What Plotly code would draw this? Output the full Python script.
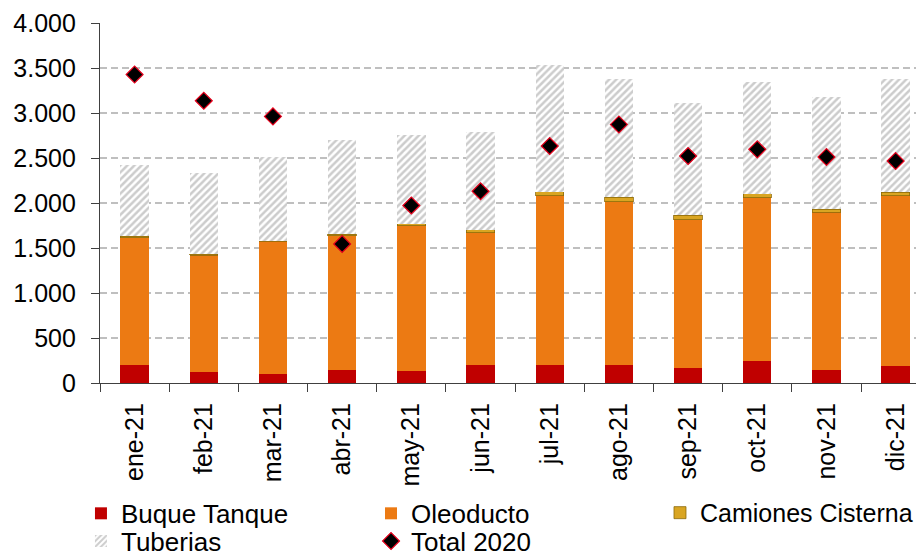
import plotly.graph_objects as go

months = ["ene-21", "feb-21", "mar-21", "abr-21", "may-21", "jun-21",
          "jul-21", "ago-21", "sep-21", "oct-21", "nov-21", "dic-21"]
buque_tanque = [203, 118, 103, 148, 129, 203, 203, 203, 170, 247, 148, 192]
oleoducto = [1410, 1300, 1470, 1488, 1617, 1466, 1876, 1810, 1643, 1810, 1750, 1887]
camiones_cisterna = [17, 15, 8, 18, 22, 33, 48, 51, 52, 48, 30, 41]
tuberias = [789, 905, 926, 1042, 987, 1083, 1411, 1315, 1248, 1241, 1252, 1259]
total_2020 = [3427, 3136, 2962, 1544, 1972, 2131, 2633, 2873, 2522, 2596, 2511, 2467]

y_tick_vals = [0, 500, 1000, 1500, 2000, 2500, 3000, 3500, 4000]
y_tick_text = ["0", "500", "1.000", "1.500", "2.000", "2.500", "3.000", "3.500", "4.000"]

FONT = "Arial, Liberation Sans, sans-serif"
BAR_W = 0.41

fig = go.Figure()
fig.add_trace(go.Bar(x=months, y=buque_tanque, name="Buque Tanque", width=BAR_W,
                     marker=dict(color="#C00000", line=dict(width=0)), legend="legend"))
fig.add_trace(go.Bar(x=months, y=oleoducto, name="Oleoducto", width=BAR_W,
                     marker=dict(color="#EC7A13", line=dict(width=0)), legend="legend2"))
fig.add_trace(go.Bar(x=months, y=camiones_cisterna, name="Camiones Cisterna", width=BAR_W,
                     marker=dict(color="#D9A522", line=dict(width=0.8, color="#8C6A0A")),
                     legend="legend3"))
fig.add_trace(go.Bar(x=months, y=tuberias, name="Tuberias", width=BAR_W,
                     marker=dict(color="white", line=dict(width=0),
                                 pattern=dict(shape="/", fgcolor="#999999", bgcolor="white",
                                              size=5, solidity=0.5)),
                     legend="legend4"))
fig.add_trace(go.Scatter(x=months, y=total_2020, name="Total 2020", mode="markers",
                         marker=dict(symbol="diamond", size=13, color="black",
                                     line=dict(color="#E8001C", width=1.2)),
                         legend="legend5"))

legend_common = dict(orientation="h", xanchor="left", yanchor="top",
                     font=dict(family=FONT, size=26, color="black"),
                     bgcolor="rgba(0,0,0,0)", itemclick=False, itemdoubleclick=False)
col_x = [-0.0231, 0.3289, 0.6796]
row_y = [-0.297, -0.374]

fig.update_layout(
    width=924, height=558,
    barmode="stack",
    plot_bgcolor="white", paper_bgcolor="white",
    font=dict(family=FONT, size=25, color="black"),
    margin=dict(l=92, r=8, t=15, b=183, autoexpand=False),
    showlegend=True,
    legend=dict(legend_common, x=col_x[0], y=row_y[0]),
    legend2=dict(legend_common, x=col_x[1], y=row_y[0]),
    legend3=dict(legend_common, x=col_x[2], y=row_y[0],
                 font=dict(family=FONT, size=25, color="black")),
    legend4=dict(legend_common, x=col_x[0], y=row_y[1]),
    legend5=dict(legend_common, x=col_x[1], y=row_y[1]),
    xaxis=dict(type="category", range=[-0.5, 11.41], automargin=False,
               showline=True, linecolor="#404040", linewidth=1.3,
               ticks="outside", tickson="boundaries", ticklen=8, tickcolor="#404040",
               tickangle=-90, tickfont=dict(family=FONT, size=25, color="black"),
               ticklabelstandoff=9, showgrid=False),
    yaxis=dict(range=[0, 4000], tickvals=y_tick_vals, ticktext=y_tick_text, automargin=False,
               showline=True, linecolor="#404040", linewidth=1.3,
               ticks="outside", ticklen=8, tickcolor="#404040",
               tickfont=dict(family=FONT, size=25, color="black"),
               ticklabelstandoff=10,
               showgrid=True, gridcolor="#BFBFBF", gridwidth=1.5, griddash="7px,4px",
               zeroline=False),
)

fig.write_html("out.html")
